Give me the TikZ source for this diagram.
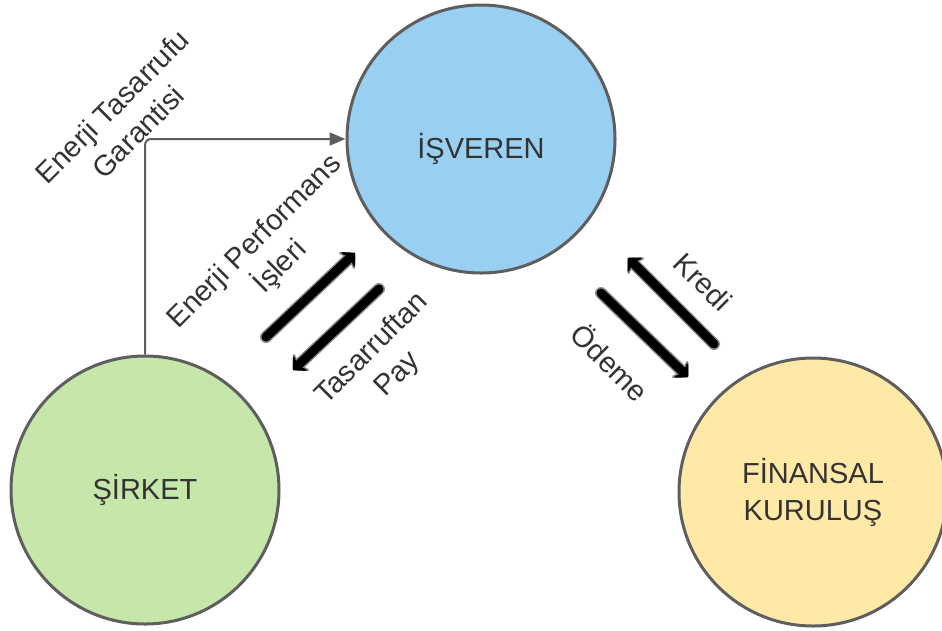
\documentclass[tikz,border=0pt]{standalone}
\usepackage{fontspec}
\setmainfont{Liberation Sans}
\usepackage{xcolor}
\usetikzlibrary{arrows.meta}

\definecolor{isverenblue}{HTML}{99D0F2}
\definecolor{sirketgreen}{HTML}{C6E6AA}
\definecolor{finansyellow}{HTML}{FFE9A6}
\definecolor{edgegray}{HTML}{5E5E5E}
\definecolor{textgray}{HTML}{333333}

\begin{document}
\begin{tikzpicture}[x=1pt, y=-1pt,
  party/.style={circle, draw=edgegray, line width=3pt, minimum size=268pt,
    inner sep=0pt, align=center, text=textgray,
    font=\fontsize{29}{37}\selectfont},
  note/.style={text=textgray, align=center, font=\fontsize{29}{36}\selectfont},
  link/.style={draw=edgegray, line width=2pt, rounded corners=6pt,
    -{Triangle[length=16pt, width=13pt]}},
  flow/.style={draw=black, line width=9pt, line cap=round,
    -{Stealth[length=12pt, width=25pt, inset=5pt, round]},
    preaction={draw=black!45, line width=12pt, line cap=round,
      -{Stealth[length=14pt, width=29pt, inset=5pt, round]}}}]
  \useasboundingbox (0,0) rectangle (942,630);

  % Parties
  \node[party, fill=isverenblue, text height=46pt] (isveren) at (481,139) {İŞVEREN};
  \node[party, fill=sirketgreen] (sirket) at (145,490) {ŞİRKET};
  \node[party, fill=finansyellow] (finans) at (813,492) {FİNANSAL\\KURULUŞ};

  % Guarantee
  \draw[link] (sirket.north) |- (isveren.west);
  \node[note, rotate=45] (garanti) at (125,119) {Enerji Tasarrufu\\Garantisi};

  % Works and share
  \coordinate (isA) at (266,337);
  \coordinate (isB) at (355,253);
  \coordinate (payA) at (379,289);
  \coordinate (payB) at (293,370);
  \draw[flow] (isA) -- (isB);
  \draw[flow] (payA) -- (payB);
  \node[note, rotate=45] (isler) at (268,255) {Enerji Performans\\İşleri};
  \node[note, rotate=45] (pay) at (385,362) {Tasarruftan\\Pay};

  % Credit and payment
  \coordinate (krA) at (714,344);
  \coordinate (krB) at (628,258);
  \coordinate (odA) at (601,293);
  \coordinate (odB) at (688,377);
  \draw[flow] (krA) -- (krB);
  \draw[flow] (odA) -- (odB);
  \node[note, rotate=-45] (kredi) at (703,282) {Kredi};
  \node[note, rotate=-45] (odeme) at (611,362) {Ödeme};
\end{tikzpicture}
\end{document}
